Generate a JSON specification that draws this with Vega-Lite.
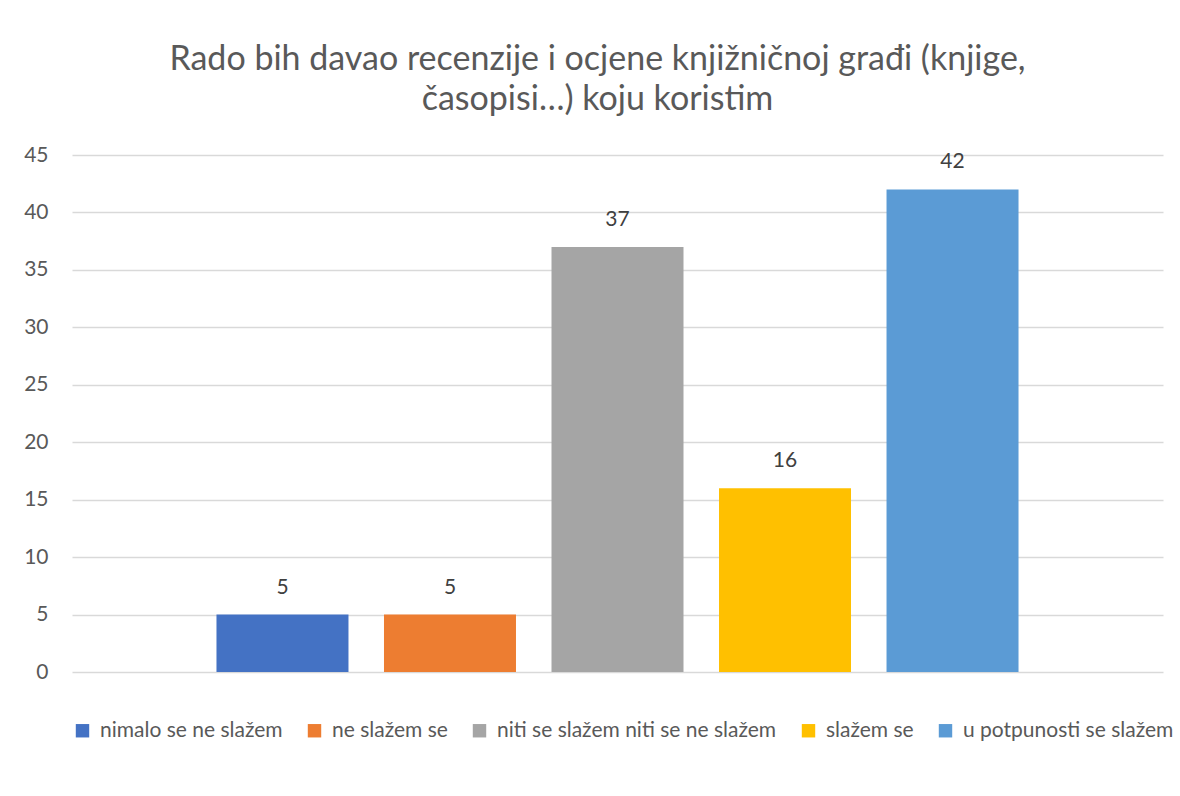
{
  "$schema": "https://vega.github.io/schema/vega-lite/v6.json",
  "autosize": {"type": "none"},
  "width": 1091,
  "height": 517,
  "padding": {"left": 72, "top": 155, "right": 17, "bottom": 124},
  "background": "white",
  "title": {
    "text": ["Rado bih davao recenzije i ocjene knjižničnoj građi (knjige,", "časopisi…) koju koristim"],
    "anchor": "middle",
    "frame": "group",
    "dx": -20,
    "offset": 27,
    "fontSize": 34,
    "font": "Lato",
    "fontWeight": "normal",
    "color": "#595959",
    "lineHeight": 40
  },
  "data": {
    "values": [
      {"odgovor": "nimalo se ne slažem", "broj": 5},
      {"odgovor": "ne slažem se", "broj": 5},
      {"odgovor": "niti se slažem niti se ne slažem", "broj": 37},
      {"odgovor": "slažem se", "broj": 16},
      {"odgovor": "u potpunosti se slažem", "broj": 42}
    ]
  },
  "encoding": {
    "x": {
      "field": "odgovor",
      "type": "nominal",
      "sort": null,
      "axis": null,
      "scale": {"paddingInner": 0.212, "paddingOuter": 0.8625}
    },
    "y": {
      "field": "broj",
      "type": "quantitative",
      "scale": {"domain": [0, 45], "nice": false},
      "axis": {
        "title": null,
        "values": [0, 5, 10, 15, 20, 25, 30, 35, 40, 45],
        "domain": false,
        "ticks": false,
        "grid": true,
        "gridColor": "#d9d9d9",
        "gridWidth": 1.5,
        "labelFont": "Lato",
        "labelFontSize": 21,
        "labelColor": "#595959",
        "labelPadding": 24
      }
    }
  },
  "layer": [
    {
      "mark": {"type": "bar"},
      "encoding": {
        "color": {
          "field": "odgovor",
          "type": "nominal",
          "sort": null,
          "scale": {
            "domain": ["nimalo se ne slažem", "ne slažem se", "niti se slažem niti se ne slažem", "slažem se", "u potpunosti se slažem"],
            "range": ["#4472C4", "#ED7D31", "#A5A5A5", "#FFC000", "#5B9BD5"]
          },
          "legend": {
            "title": null,
            "orient": "bottom",
            "direction": "horizontal",
            "offset": 48,
            "symbolType": "square",
            "symbolSize": 180,
            "symbolStrokeWidth": 0,
            "labelFont": "Lato",
            "labelFontSize": 21,
            "labelColor": "#595959",
            "labelLimit": 400,
            "columnPadding": 21,
            "labelOffset": 7,
            "symbolOffset": 0
          }
        }
      }
    },
    {
      "mark": {"type": "text", "baseline": "middle", "dy": -27, "font": "Lato", "fontSize": 21, "color": "#404040"},
      "encoding": {"text": {"field": "broj", "type": "quantitative"}}
    }
  ],
  "config": {"view": {"stroke": null}}
}
